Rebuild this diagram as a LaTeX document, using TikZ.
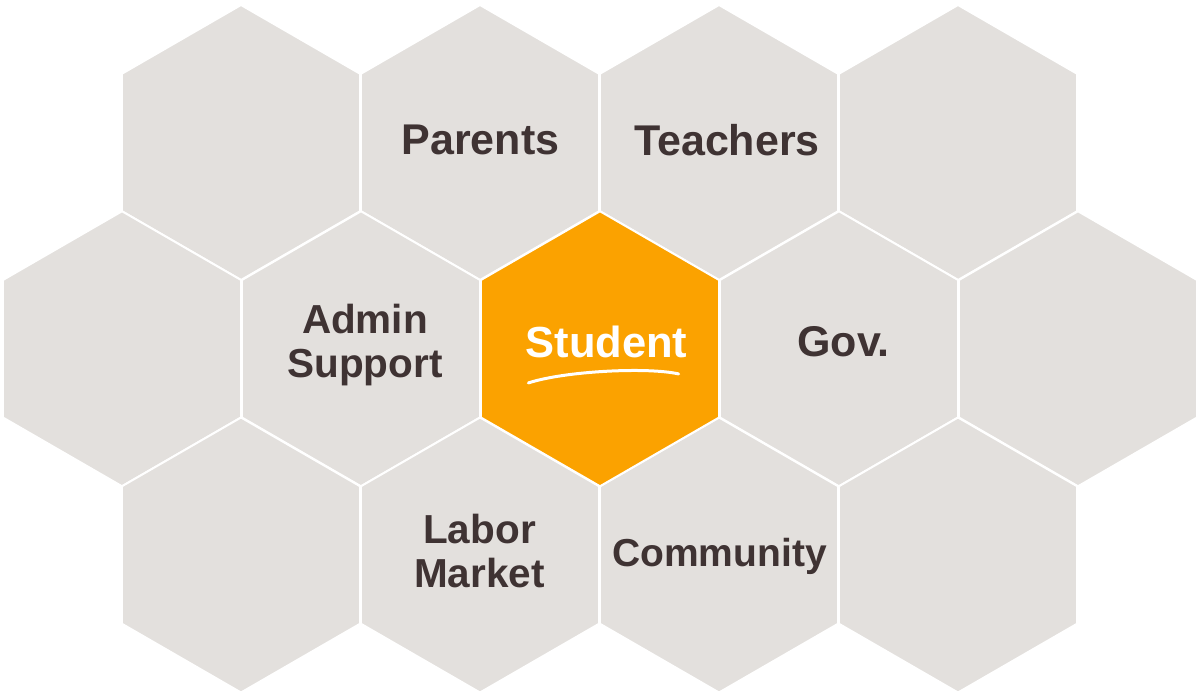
\documentclass[tikz,border=0pt]{standalone}
\usepackage{fontspec}
\setmainfont{Liberation Sans}
\usetikzlibrary{shapes.geometric}
\usetikzlibrary{positioning}
\definecolor{hexgray}{HTML}{E3E0DD}
\definecolor{hexorange}{HTML}{FBA200}
\definecolor{txtbrown}{HTML}{3F3333}
\tikzset{
    base/.style =   {
                        regular polygon, regular polygon sides=6,
                        shape border rotate=30,
                        minimum size=275pt, inner sep=0pt, outer sep=0pt,
                        draw=white, line width=2pt
                    },
    plain_hex/.style = {base, fill=hexgray},
    center_hex/.style = {base, fill=hexorange},
    tag/.style = {text=txtbrown, font=\bfseries\fontsize{40.5}{44}\selectfont, align=center, inner sep=0pt},
    big_tag/.style = {tag, font=\bfseries\fontsize{43}{47}\selectfont},
    small_tag/.style = {tag, font=\bfseries\fontsize{39}{43}\selectfont},
    main_tag/.style = {tag, text=white, font=\bfseries\fontsize{43.5}{48}\selectfont}
}
\begin{document}
\begin{tikzpicture}[x=1pt, y=-1pt]
    \useasboundingbox (0,0) rectangle (1200,697);

    % top row
    \node (top_left)      [plain_hex] at (241,142.5)  {};
    \node (parents)       [plain_hex] at (480,142.5)  {};
    \node (teachers)      [plain_hex] at (719,142.5)  {};
    \node (top_right)     [plain_hex] at (958,142.5)  {};

    % middle row
    \node (mid_left)      [plain_hex] at (122,348.75) {};
    \node (admin)         [plain_hex] at (361,348.75) {};
    \node (gov)           [plain_hex] at (839,348.75) {};
    \node (mid_right)     [plain_hex] at (1078,348.75) {};

    % bottom row
    \node (bottom_left)   [plain_hex] at (241,555)    {};
    \node (labor)         [plain_hex] at (480,555)    {};
    \node (community)     [plain_hex] at (719,555)    {};
    \node (bottom_right)  [plain_hex] at (958,555)    {};

    \node (student)       [center_hex] at (600,348.75) {};

    % labels
    \node (parents_txt)   [big_tag]   at ([xshift=0.5pt,yshift=2.5pt]parents.center)  {Parents};
    \node (teachers_txt)  [big_tag]   at ([xshift=8pt,yshift=2.5pt]teachers.center)   {Teachers};
    \node (admin_txt)     [tag]       at ([xshift=4pt,yshift=4pt]admin.center)        {Admin\\Support};
    \node (gov_txt)       [big_tag]   at ([xshift=4.5pt,yshift=7pt]gov.center)        {Gov.};
    \node (labor_txt)     [tag]       at ([xshift=-0.5pt,yshift=4pt]labor.center)     {Labor\\Market};
    \node (community_txt) [small_tag] at ([xshift=0.5pt,yshift=-1.5pt]community.center) {Community};
    \node (student_txt)   [main_tag]  at ([xshift=6.5pt,yshift=7pt]student.center)    {Student};

    \draw[white, line width=3pt, line cap=round]
        ([xshift=3pt,yshift=-25pt]student_txt.south west)
        .. controls ([xshift=40pt,yshift=-13pt]student_txt.south west)
        and ([xshift=-40pt,yshift=-9pt]student_txt.south east)
        .. ([xshift=-9pt,yshift=-16pt]student_txt.south east);
\end{tikzpicture}
\end{document}
